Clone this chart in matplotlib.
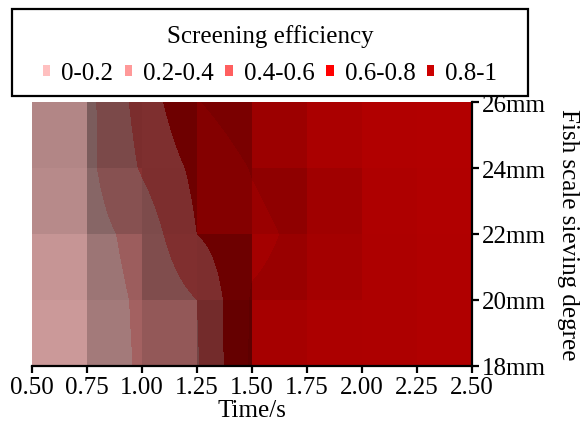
import numpy as np
import matplotlib
matplotlib.use("Agg")
import matplotlib.pyplot as plt
from matplotlib.patches import Patch, Rectangle

plt.rcParams['font.family'] = ['Liberation Serif', 'DejaVu Serif']

#=========== Data ================
times = [0.50, 0.75, 1.00, 1.25, 1.50, 1.75, 2.00, 2.25, 2.50]
sizes = [18, 20, 22, 24, 26]
size_labels = ['18mm', '20mm', '22mm', '24mm', '26mm']

# screening efficiency per sieving degree
eff_18mm = [0.05, 0.10, 0.22, 0.38, 0.83, 0.88, 0.91, 0.94, 0.96]
eff_20mm = [0.05, 0.10, 0.23, 0.40, 0.82, 0.87, 0.91, 0.94, 0.96]
eff_22mm = [0.05, 0.12, 0.27, 0.60, 0.75, 0.85, 0.92, 0.95, 0.97]
eff_24mm = [0.05, 0.15, 0.42, 0.65, 0.81, 0.90, 0.95, 0.97, 0.98]
eff_26mm = [0.05, 0.14, 0.48, 0.79, 0.92, 0.95, 0.97, 0.98, 0.98]

band_edges = [0.2, 0.4, 0.6, 0.8]
band_labels = ['0-0.2', '0.2-0.4', '0.4-0.6', '0.6-0.8', '0.8-1']
band_colors = ['#ffc0c0', '#ff9999', '#ff5f5f', '#ff0000', '#cc0000']
# base colours of the lit surface (the light darkens them further)
surface_colors = ['#ffc0c0', '#ff9999', '#ff5f5f', '#e00000', '#d00000']

#=========== Surface ================
Z = np.array([eff_18mm, eff_20mm, eff_22mm, eff_24mm, eff_26mm])
tx = np.array(times)
sy = np.array(sizes, dtype=float)

nxf, nyf = 880, 528
xf = tx[0] + (np.arange(nxf) + 0.5) * (tx[-1] - tx[0]) / nxf
yf = sy[0] + (np.arange(nyf) + 0.5) * (sy[-1] - sy[0]) / nyf
ix = np.clip(np.searchsorted(tx, xf) - 1, 0, len(tx) - 2)
iy = np.clip(np.searchsorted(sy, yf) - 1, 0, len(sy) - 2)
fx = (xf - tx[ix]) / (tx[ix + 1] - tx[ix])
fy = (yf - sy[iy]) / (sy[iy + 1] - sy[iy])

IX, IY = np.meshgrid(ix, iy)
FX, FY = np.meshgrid(fx, fy)
z00 = Z[IY, IX]
z10 = Z[IY, IX + 1]
z01 = Z[IY + 1, IX]
z11 = Z[IY + 1, IX + 1]
zf = (z00 * (1 - FX) * (1 - FY) + z10 * FX * (1 - FY)
      + z01 * (1 - FX) * FY + z11 * FX * FY)

# one light value per grid cell: steeper cells come out darker
su = ((Z[:-1, 1:] + Z[1:, 1:]) - (Z[:-1, :-1] + Z[1:, :-1])) / 2 / np.diff(tx)[None, :] * (tx[-1] - tx[0])
sv = ((Z[1:, :-1] + Z[1:, 1:]) - (Z[:-1, :-1] + Z[:-1, 1:])) / 2 / np.diff(sy)[:, None] * (sy[-1] - sy[0])
cell_shade = 0.42 + 0.44 / (1 + su ** 2 + sv ** 2)
shade = cell_shade[IY, IX]

rgb_bands = np.array([matplotlib.colors.to_rgb(c) for c in surface_colors])
band = np.digitize(zf, band_edges)
rgb = rgb_bands[band] * shade[..., None]

#=========== Plot ================
fig = plt.figure(figsize=(5.83, 4.31), dpi=100)
ax = fig.add_axes([32 / 583, 64 / 431, 440 / 583, 264 / 431])
ax.imshow(rgb, extent=(tx[0], tx[-1], sy[0], sy[-1]),
          origin='lower', aspect='auto', interpolation='nearest')
ax.set_xlim(tx[0], tx[-1])
ax.set_ylim(sy[0], sy[-1])

ax.set_xticks(times)
ax.set_xticklabels(['%.2f' % t for t in times])
ax.yaxis.tick_right()
ax.yaxis.set_label_position('right')
ax.set_yticks(sizes)
ax.set_yticklabels(size_labels)
for side in ['left', 'top']:
    ax.spines[side].set_visible(False)
for side in ['bottom', 'right']:
    ax.spines[side].set_linewidth(1.6)
ax.tick_params(axis='both', direction='out', length=5, width=1.6, labelsize=18, pad=2)

ax.set_xlabel('Time/s', fontsize=18, labelpad=1)
ax.set_ylabel('Fish scale sieving degree', fontsize=18, rotation=270, labelpad=24)

# legend box with title above the swatches
fig.add_artist(Rectangle((12 / 583, 1 - 97 / 431), 516 / 583, 87 / 431,
                         transform=fig.transFigure, fill=False, edgecolor='black', linewidth=1.6))
fig.text(270 / 583, 1 - 37 / 431, 'Screening efficiency', ha='center', va='center', fontsize=18)
handles = [Patch(facecolor=c, edgecolor='none') for c in band_colors]
fig.legend(handles, band_labels, ncol=5, loc='center', bbox_to_anchor=(270 / 583, 1 - 74 / 431),
           frameon=False, fontsize=18, handlelength=0.3, handleheight=0.3,
           handletextpad=0.45, columnspacing=0.45, borderpad=0)

fig.savefig('out.png', dpi=100)
